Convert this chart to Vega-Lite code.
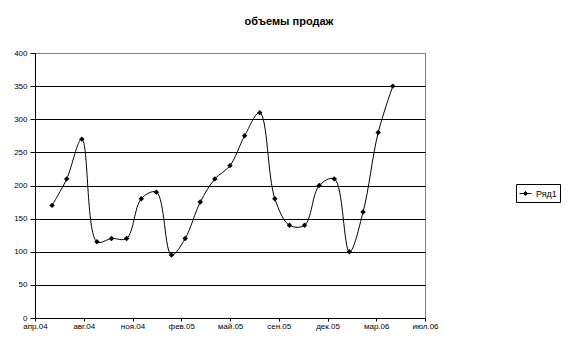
{
  "$schema": "https://vega.github.io/schema/vega-lite/v6.json",
  "autosize": "none",
  "width": 390,
  "height": 265,
  "padding": {"left": 35, "top": 53, "right": 153, "bottom": 37},
  "background": "white",
  "title": {
    "text": "объемы продаж",
    "font": "Liberation Sans",
    "fontSize": 11,
    "fontWeight": "bold",
    "color": "black",
    "anchor": "middle",
    "dx": 59,
    "offset": 22
  },
  "config": {
    "view": {"stroke": "#808080", "strokeWidth": 1},
    "axis": {
      "labelFont": "Liberation Sans",
      "labelFontSize": 8,
      "labelColor": "black",
      "domainColor": "black",
      "tickColor": "black",
      "titleFont": "Liberation Sans"
    }
  },
  "data": {
    "values": [
      {"date": "2004-05-31", "value": 170, "series": "Ряд1"},
      {"date": "2004-06-30", "value": 210, "series": "Ряд1"},
      {"date": "2004-07-31", "value": 270, "series": "Ряд1"},
      {"date": "2004-08-31", "value": 115, "series": "Ряд1"},
      {"date": "2004-09-30", "value": 120, "series": "Ряд1"},
      {"date": "2004-10-31", "value": 120, "series": "Ряд1"},
      {"date": "2004-11-30", "value": 180, "series": "Ряд1"},
      {"date": "2004-12-31", "value": 190, "series": "Ряд1"},
      {"date": "2005-01-31", "value": 95, "series": "Ряд1"},
      {"date": "2005-02-28", "value": 120, "series": "Ряд1"},
      {"date": "2005-03-31", "value": 175, "series": "Ряд1"},
      {"date": "2005-04-30", "value": 210, "series": "Ряд1"},
      {"date": "2005-05-31", "value": 230, "series": "Ряд1"},
      {"date": "2005-06-30", "value": 275, "series": "Ряд1"},
      {"date": "2005-07-31", "value": 310, "series": "Ряд1"},
      {"date": "2005-08-31", "value": 180, "series": "Ряд1"},
      {"date": "2005-09-30", "value": 140, "series": "Ряд1"},
      {"date": "2005-10-31", "value": 140, "series": "Ряд1"},
      {"date": "2005-11-30", "value": 200, "series": "Ряд1"},
      {"date": "2005-12-31", "value": 210, "series": "Ряд1"},
      {"date": "2006-01-31", "value": 100, "series": "Ряд1"},
      {"date": "2006-02-28", "value": 160, "series": "Ряд1"},
      {"date": "2006-03-31", "value": 280, "series": "Ряд1"},
      {"date": "2006-04-30", "value": 350, "series": "Ряд1"}
    ]
  },
  "encoding": {
    "x": {
      "field": "date",
      "type": "temporal",
      "scale": {"type": "utc", "domain": [1082937600000, 1152057600000]},
      "axis": {
        "title": null,
        "grid": false,
        "values": [1082937600000, 1091577600000, 1100217600000, 1108857600000, 1117497600000, 1126137600000, 1134777600000, 1143417600000, 1152057600000],
        "labelExpr": "['янв','фев','мар','апр','май','июн','июл','авг','сен','окт','ноя','дек'][utcmonth(datum.value)] + '.' + utcFormat(datum.value, '%y')",
        "tickSize": 3,
        "labelPadding": 1,
        "labelFlush": false,
        "labelOverlap": false
      }
    },
    "y": {
      "field": "value",
      "type": "quantitative",
      "scale": {"domain": [0, 400], "nice": false},
      "axis": {
        "title": null,
        "values": [0, 50, 100, 150, 200, 250, 300, 350, 400],
        "grid": true,
        "gridColor": {"condition": {"test": "datum.value === 400", "value": "#808080"}, "value": "black"},
        "gridOpacity": 1,
        "tickSize": 5,
        "labelPadding": 3
      }
    },
    "color": {
      "field": "series",
      "type": "nominal",
      "scale": {"range": ["black"]},
      "legend": {
        "title": null,
        "orient": "none",
        "legendX": 481,
        "legendY": 131,
        "strokeColor": "black",
        "fillColor": "white",
        "padding": 3,
        "symbolType": "M-1,0H1M0,-0.35L0.35,0L0,0.35L-0.35,0Z",
        "symbolSize": 140,
        "symbolStrokeWidth": 1,
        "symbolFillColor": "black",
        "symbolStrokeColor": "black",
        "labelFont": "Liberation Sans",
        "labelFontSize": 9,
        "labelColor": "black",
        "labelOffset": 4
      }
    }
  },
  "layer": [
    {
      "mark": {"type": "line", "interpolate": "catmull-rom", "strokeWidth": 1, "color": "black"}
    },
    {
      "mark": {"type": "point", "shape": "diamond", "filled": true, "size": 30, "opacity": 1, "color": "black"}
    }
  ]
}
